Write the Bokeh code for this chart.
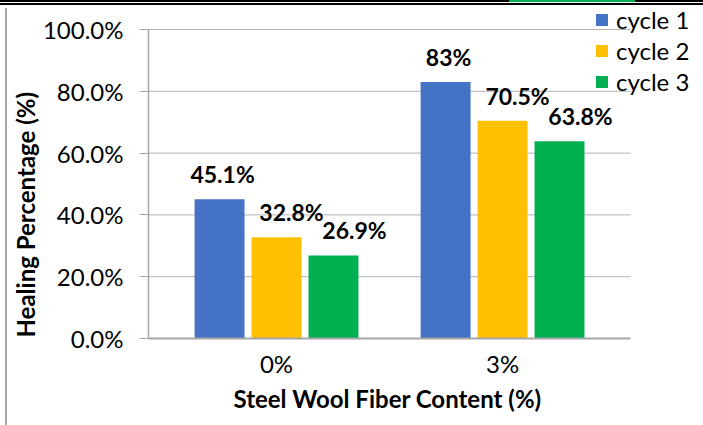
from bokeh.plotting import figure
from bokeh.models import (Range1d, FixedTicker, NumeralTickFormatter, Legend, LegendItem,
                          ColumnDataSource, Title, InlineStyleSheet)
from bokeh.core.properties import value
from bokeh.embed import file_html
from bokeh.resources import INLINE

# Data
categories = ["0%", "3%"]
series_names = ["cycle 1", "cycle 2", "cycle 3"]
cycle1 = [0.451, 0.83]
cycle2 = [0.328, 0.705]
cycle3 = [0.269, 0.638]
y_ticks = [0.0, 0.2, 0.4, 0.6, 0.8, 1.0]

# Styling
colors = ["#4472C4", "#FFC000", "#00B050"]
bar_offsets = [-0.252, 0.0, 0.252]
bar_width = 0.221
label_dx = [3, 15, 21]
FONT = "Lato"
GRID = "#B4B4B4"
AXIS = "#A6A6A6"

# category axis spans [x_lo, x_hi]; the frame runs a bit further right so the
# legend can sit beyond the end of the gridlines
x_lo, x_hi = -0.0664, 2.0664
x_end = 2.389
y_end = 338 / 309

p = figure(width=703, height=425, output_backend="svg", toolbar_location=None,
           x_range=Range1d(x_lo, x_end), y_range=Range1d(0, y_end),
           min_border_left=148, min_border_right=0, min_border_top=0, min_border_bottom=87)
p.frame_width = 555
p.frame_height = 338
p.outline_line_color = None
p.background_fill_color = "white"
p.border_fill_color = "white"

# page rules: double black rule along the top, grey rule down the left side
p.stylesheets = [InlineStyleSheet(css="""
:host { position: relative; }
:host::before {
  content: ""; position: absolute; left: 0; top: 0; width: 703px; height: 2px;
  background: linear-gradient(to right, black 0 509px, #00B050 509px 635px, black 635px);
  box-shadow: 0 3px 0 black; z-index: 10; pointer-events: none;
}
:host::after {
  content: ""; position: absolute; left: 5px; top: 8px; width: 2px; height: 417px;
  background: #A6A6A6; z-index: 10; pointer-events: none;
}
""")]

# horizontal gridlines limited to the category axis extent
grid_y = [t for t in y_ticks if t > 0]
p.segment(x0=[x_lo] * len(grid_y), x1=[x_hi] * len(grid_y), y0=grid_y, y1=grid_y,
          line_color=GRID, line_width=1, level="underlay")

items = []
for s, vals in enumerate([cycle1, cycle2, cycle3]):
    xs = [i + 0.5 + bar_offsets[s] for i in range(len(categories))]
    labels = [f"{v * 100:g}%" for v in vals]
    src = ColumnDataSource(dict(x=xs, top=vals, label=labels))
    r = p.vbar(x="x", top="top", width=bar_width, source=src,
               fill_color=colors[s], line_color=None)
    p.text(x="x", y="top", text="label", source=src, text_align="center",
           text_baseline="middle", x_offset=label_dx[s], y_offset=-25,
           text_font=value(FONT), text_font_size="23px", text_font_style="bold",
           text_color="black")
    items.append(LegendItem(label=series_names[s], renderers=[r]))

legend = Legend(items=items, location=(446, 242), padding=0, margin=0, spacing=2,
                glyph_width=15, glyph_height=15, label_standoff=7,
                label_text_font=FONT, label_text_font_size="24px",
                label_text_color="black",
                border_line_color=None, background_fill_alpha=0)
p.add_layout(legend)

# Axes
p.yaxis.ticker = FixedTicker(ticks=y_ticks)
p.yaxis.formatter = NumeralTickFormatter(format="0.0%")
p.yaxis.bounds = (0, 1.0)
p.yaxis.axis_line_color = AXIS
p.yaxis.axis_line_width = 1.5
p.yaxis.major_tick_line_color = AXIS
p.yaxis.major_tick_out = 9
p.yaxis.major_tick_in = 0
p.yaxis.minor_tick_line_color = None
p.yaxis.major_label_standoff = 16

p.xaxis.ticker = FixedTicker(ticks=[i + 0.5 for i in range(len(categories))])
p.xaxis.major_label_overrides = {i + 0.5: c for i, c in enumerate(categories)}
p.xaxis.bounds = (x_lo, x_hi)
p.xaxis.axis_line_color = AXIS
p.xaxis.axis_line_width = 2
p.xaxis.major_tick_line_color = None
p.xaxis.minor_tick_line_color = None
p.xaxis.major_label_standoff = 4

for ax in (p.xaxis, p.yaxis):
    ax.major_label_text_font = FONT
    ax.major_label_text_font_size = "24px"
    ax.major_label_text_color = "black"

p.xgrid.grid_line_color = None
p.ygrid.grid_line_color = None

# axis titles
ytitle = Title(text="Healing Percentage (%)", align="left", offset=1, standoff=0,
               text_font=FONT, text_font_size="24px", text_font_style="bold",
               text_color="black")
p.add_layout(ytitle, "left")
xtitle = Title(text="Steel Wool Fiber Content (%)", align="left", offset=85, standoff=2,
               text_font=FONT, text_font_size="24px", text_font_style="bold",
               text_color="black")
p.add_layout(xtitle, "below")

open("out.html", "w").write(file_html(p, INLINE))
